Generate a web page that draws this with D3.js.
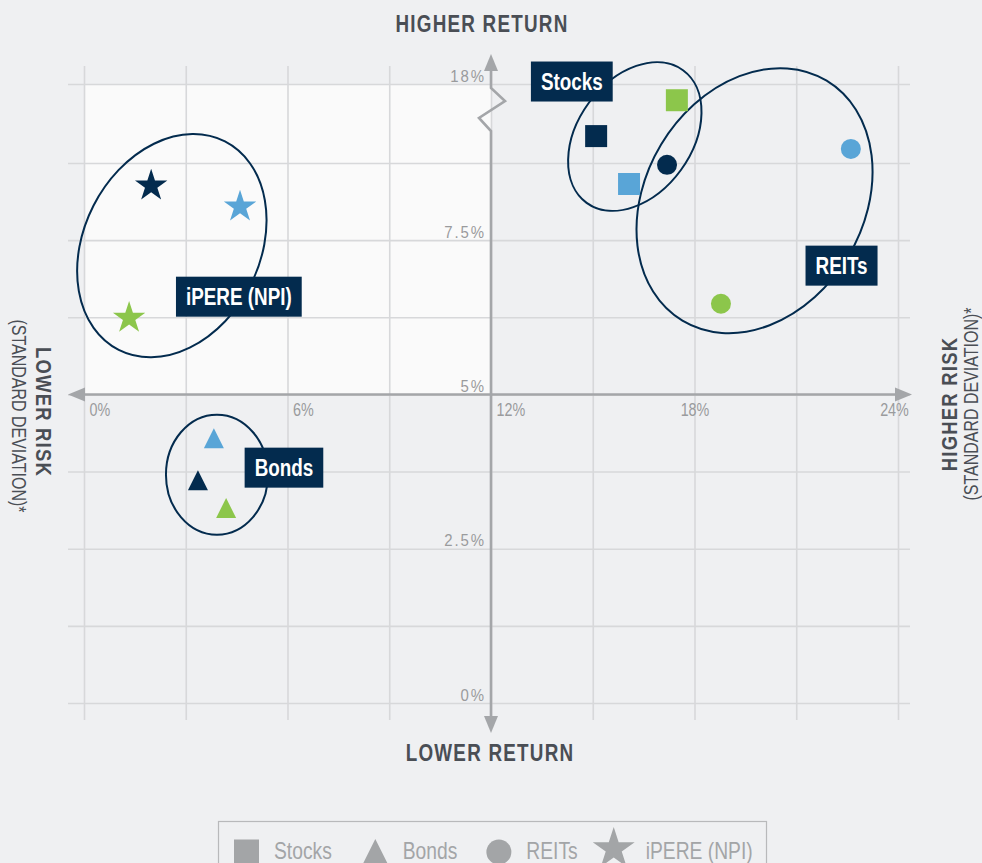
<!DOCTYPE html>
<html>
<head>
<meta charset="utf-8">
<script src="https://d3js.org/d3.v7.min.js"></script>
<style>
  body { margin: 0; background: #eff0f2; }
  svg { display: block; }
  text { font-family: 'Liberation Sans', Arial, sans-serif; }
</style>
</head>
<body>
<div id="chart"></div>
<script>
// asset classes and their marker shapes
var assetClasses = ['Stocks', 'Bonds', 'REITs', 'iPERE (NPI)'];
// three periods, shown by colour only (navy, blue, green)
var periodColors = ['#032b4e', '#59a5d7', '#8cc64b'];

// risk = standard deviation (%), return (%) -- one value per period
var stocksRisk = [15.1, 16.07, 17.48];
var stocksReturn = [11.9, 8.41, 16.1];
var bondsRisk = [3.36, 3.83, 4.19];
var bondsReturn = [3.61, 4.29, 3.16];
var reitsRisk = [17.19, 22.61, 18.78];
var reitsReturn = [8.72, 10.4, 6.47];
var npiRisk = [1.98, 4.6, 1.33];
var npiReturn = [8.38, 8.04, 6.24];

// grid and tick labels
var xGrid = [0, 3, 6, 9, 12, 15, 18, 21, 24];
var xLabels = [0, 6, 12, 18, 24];
var yGrid = [0, 1.25, 2.5, 3.75, 5, 6.25, 7.5, 8.75, 18];
var yLabels = [0, 2.5, 5, 7.5, 18];

var width = 982,
  height = 863;

var navy = '#032b4e',
  axisGrey = '#a4a6a9',
  gridGrey = '#d7d8da',
  titleGrey = '#4a4e55',
  tickGrey = '#9a9b9d';

// no condensed font installed, so squeeze Liberation Sans sideways
var narrow = 0.82;

var x = d3.scaleLinear().domain([0, 24]).range([84, 898]);
// broken axis: 0-8.75% linear, then compressed up to 18%
var y = d3.scaleLinear().domain([0, 8.75, 18]).range([703, 163, 84]);

var svg = d3
  .select('#chart')
  .append('svg')
  .attr('width', width)
  .attr('height', height);

// lighter "low risk / high return" quadrant
svg
  .append('rect')
  .attr('x', x(0))
  .attr('y', y(18))
  .attr('width', x(12) - x(0))
  .attr('height', y(5) - y(18))
  .style('fill', '#fafafa');

// grid lines
var gridX = svg
  .append('g')
  .attr('transform', 'translate(0,' + (y(0) + 17) + ')')
  .call(d3.axisBottom(x).tickValues(xGrid).tickSize(-(y(0) + 17 - (y(18) - 18))).tickFormat(''));
var gridY = svg
  .append('g')
  .attr('transform', 'translate(' + (x(0) - 16) + ',0)')
  .call(d3.axisLeft(y).tickValues(yGrid).tickSize(-(x(24) + 12 - (x(0) - 16))).tickFormat(''));
[gridX, gridY].forEach(function (g) {
  g.select('.domain').remove();
  g.selectAll('line').style('stroke', gridGrey).style('stroke-width', 1.6);
});

// tick labels
var yNarrow = 0.88;
var yAxis = svg
  .append('g')
  .attr('transform', 'translate(' + x(12) + ',0)')
  .call(
    d3.axisLeft(y).tickValues(yLabels).tickSize(0)
      .tickFormat(function (d) { return d + '%'; })
  );
yAxis.select('.domain').remove();
yAxis
  .selectAll('text')
  .attr('x', -5 / yNarrow)
  .attr('dy', '-0.17em')
  .attr('transform', 'scale(' + yNarrow + ',1)')
  .style('font-size', '17px')
  .style('letter-spacing', '2.2px')
  .style('fill', tickGrey);

var xAxis = svg
  .append('g')
  .attr('transform', 'translate(0,' + y(5) + ')')
  .call(
    d3.axisBottom(x).tickValues(xLabels).tickSize(0)
      .tickFormat(function (d) { return d + '%'; })
  );
xAxis.select('.domain').remove();
xAxis
  .selectAll('text')
  .attr('y', 22)
  .attr('dy', 0)
  .attr('x', function (d) { return (d <= 12 ? 5 : d == 24 ? -4 : 0) / narrow; })
  .attr('transform', 'scale(' + narrow + ',1)')
  .attr('text-anchor', function (d) { return d <= 12 ? 'start' : 'middle'; })
  .style('font-size', '17.5px')
  .style('fill', tickGrey);

// main axes with arrows
var x0 = x(12),
  y0 = y(5),
  yTop = y(18);
svg
  .append('path')
  .attr('d', 'M' + (x(0) - 2) + ',' + y0 + 'H' + (x(24) + 2))
  .style('stroke', axisGrey)
  .style('stroke-width', 2.6)
  .style('fill', 'none');
svg
  .append('path')
  .attr(
    'd',
    'M' + x0 + ',' + (yTop - 20) +
      'V' + (yTop + 4) +
      'L' + (x0 + 14) + ',' + (yTop + 17) +
      'L' + (x0 - 12) + ',' + (yTop + 34) +
      'L' + x0 + ',' + (yTop + 47) +
      'V' + (y(0) + 16)
  )
  .style('stroke', axisGrey)
  .style('stroke-width', 2.6)
  .style('fill', 'none');

var arrows = [
  [x(0) - 16, y0, x(0) + 1, y0 - 7, x(0) + 1, y0 + 7],
  [x(24) + 14, y0, x(24) - 3, y0 - 7, x(24) - 3, y0 + 7],
  [x0, yTop - 30, x0 - 7, yTop - 13, x0 + 7, yTop - 13],
  [x0, y(0) + 30, x0 - 7, y(0) + 13, x0 + 7, y(0) + 13]
];
svg
  .selectAll('.arrow')
  .data(arrows)
  .enter()
  .append('path')
  .attr('class', 'arrow')
  .attr('d', function (a) {
    return 'M' + a[0] + ',' + a[1] + 'L' + a[2] + ',' + a[3] + 'L' + a[4] + ',' + a[5] + 'Z';
  })
  .style('fill', axisGrey);

// axis titles
function title(txt, tx, ty, rot, bold, size) {
  svg
    .append('text')
    .attr('transform', 'translate(' + tx + ',' + ty + ') rotate(' + rot + ') scale(' + narrow + ',1)')
    .attr('text-anchor', 'middle')
    .style('font-size', size)
    .style('font-weight', bold ? 'bold' : 'normal')
    .style('letter-spacing', bold ? '1.5px' : '0px')
    .style('fill', titleGrey)
    .text(txt);
}
title('HIGHER RETURN', 482, 32, 0, true, '23px');
title('LOWER RETURN', 490, 761, 0, true, '23px');
title('LOWER RISK', 36, 412, 90, true, '22.5px');
title('(STANDARD DEVIATION)*', 12, 416, 90, false, '19.5px');
title('HIGHER RISK', 957, 404, -90, true, '22.5px');
title('(STANDARD DEVIATION)*', 978, 404, -90, false, '19.5px');

// custom triangle centred on its box
var triangle = {
  draw: function (ctx, size) {
    var s = Math.sqrt(size);
    ctx.moveTo(0, -s / 2);
    ctx.lineTo(s / 2, s / 2);
    ctx.lineTo(-s / 2, s / 2);
    ctx.closePath();
  }
};
var shapes = [d3.symbolSquare, triangle, d3.symbolCircle, d3.symbolStar];
var shapeSizes = [484, 400, 314, 325];
var legendSizes = [625, 676, 491, 545];

// group outlines (centre in data units, radii in px) and label boxes
var groupEllipses = [
  { name: 'Stocks', risk: 16.24, ret: 11.85, rx: 57, ry: 82, angle: 36, dx: -63, dy: -55 },
  { name: 'Bonds', risk: 3.92, ret: 3.7, rx: 51, ry: 60, angle: 0, dx: 67, dy: -7 },
  { name: 'REITs', risk: 19.77, ret: 8.14, rx: 109, ry: 140, angle: 31, dx: 87, dy: 65 },
  { name: 'iPERE (NPI)', risk: 2.59, ret: 7.41, rx: 88, ry: 117, angle: 27, dx: 67, dy: 51 }
];

svg
  .selectAll('.group-ellipse')
  .data(groupEllipses)
  .enter()
  .append('ellipse')
  .attr('class', 'group-ellipse')
  .attr('transform', function (d) {
    return 'translate(' + x(d.risk) + ',' + y(d.ret) + ') rotate(' + d.angle + ')';
  })
  .attr('rx', function (d) { return d.rx; })
  .attr('ry', function (d) { return d.ry; })
  .style('fill', 'none')
  .style('stroke', navy)
  .style('stroke-width', 2);

// points
var series = [
  { cls: 0, risk: stocksRisk, ret: stocksReturn },
  { cls: 1, risk: bondsRisk, ret: bondsReturn },
  { cls: 2, risk: reitsRisk, ret: reitsReturn },
  { cls: 3, risk: npiRisk, ret: npiReturn }
];
var points = [];
series.forEach(function (s) {
  s.risk.forEach(function (r, i) {
    points.push({ cls: s.cls, period: i, risk: r, ret: s.ret[i] });
  });
});

svg
  .selectAll('.point')
  .data(points)
  .enter()
  .append('path')
  .attr('class', 'point')
  .attr('transform', function (d) {
    return 'translate(' + x(d.risk) + ',' + y(d.ret) + ')';
  })
  .attr('d', function (d) {
    return d3.symbol().type(shapes[d.cls]).size(shapeSizes[d.cls])();
  })
  .style('fill', function (d) { return periodColors[d.period]; });

// label boxes
var labels = svg
  .selectAll('.group-label')
  .data(groupEllipses)
  .enter()
  .append('g')
  .attr('class', 'group-label')
  .attr('transform', function (d) {
    return 'translate(' + (x(d.risk) + d.dx) + ',' + (y(d.ret) + d.dy) + ')';
  });
labels.append('rect');
labels
  .append('text')
  .attr('text-anchor', 'middle')
  .attr('y', 8)
  .attr('transform', 'scale(' + narrow + ',1)')
  .style('font-size', '23px')
  .style('font-weight', 'bold')
  .style('fill', '#fff')
  .text(function (d) { return d.name; });
labels.each(function () {
  var g = d3.select(this);
  var w = g.select('text').node().getComputedTextLength() * narrow + 20;
  g.select('rect')
    .attr('x', -w / 2)
    .attr('y', -20)
    .attr('width', w)
    .attr('height', 40)
    .style('fill', navy);
});

// legend
var legend = svg.append('g');
legend
  .append('rect')
  .attr('x', 218.5)
  .attr('y', 821.5)
  .attr('width', 548)
  .attr('height', 60)
  .style('fill', 'none')
  .style('stroke', '#b8b9bb')
  .style('stroke-width', 1.2);
var lx = 234;
var legendGaps = [31, 29, 15];
assetClasses.forEach(function (name, i) {
  var half = i == 3 ? 21 : 12.5;
  legend
    .append('path')
    .attr('transform', 'translate(' + (lx + half) + ',' + (i == 3 ? 849 : 852) + ')')
    .attr('d', d3.symbol().type(shapes[i]).size(legendSizes[i])())
    .style('fill', '#a3a5a7');
  lx += half * 2 + (i == 3 ? 11 : 15);
  var t = legend
    .append('text')
    .attr('transform', 'translate(' + lx + ',859) scale(' + narrow + ',1)')
    .style('font-size', '23.5px')
    .style('fill', '#a3a5a7')
    .text(name);
  lx += t.node().getComputedTextLength() * narrow + (legendGaps[i] || 0);
});
</script>
</body>
</html>
